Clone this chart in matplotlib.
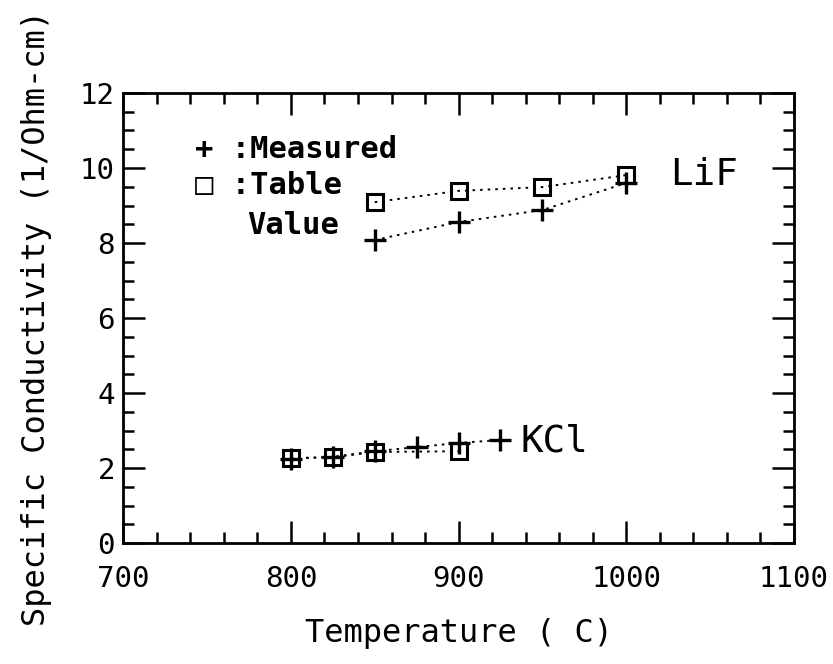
import numpy as np
import matplotlib; matplotlib.use("Agg")
import matplotlib.pyplot as plt
from matplotlib.ticker import MultipleLocator

plt.rcParams.update({"font.family": "DejaVu Sans Mono", "font.size": 21})

# LiF
lif_t = [850, 900, 950, 1000]
lif_meas = [8.08, 8.56, 8.88, 9.60]
lif_table = [9.09, 9.39, 9.49, 9.81]
# KCl
kcl_t_meas = [800, 825, 850, 875, 900, 925]
kcl_meas = [2.25, 2.30, 2.45, 2.56, 2.67, 2.75]
kcl_t_table = [800, 825, 850, 900]
kcl_table = [2.27, 2.29, 2.43, 2.45]

DOT = (0, (1.3, 2.6))

fig = plt.figure(figsize=(8.33, 6.64), dpi=100)
ax = fig.add_axes([0.148, 0.182, 0.805, 0.678])

for x, y in [(lif_t, lif_meas), (kcl_t_meas, kcl_meas)]:
    ax.plot(x, y, ls=DOT, lw=1.4, color="k", marker="+", ms=16, mew=2.4)
for x, y in [(lif_t, lif_table), (kcl_t_table, kcl_table)]:
    ax.plot(x, y, ls=DOT, lw=1.4, color="k", marker="s", ms=11, mew=2.2,
            mfc="none")

kw = dict(va="center", ha="left", fontsize=22, fontweight="semibold")
ax.text(743, 10.48, "+ :Measured", **kw)
ax.text(743, 9.52, "\u25a1 :Table", **kw)
ax.text(774, 8.48, "Value", **kw)
ax.text(1026, 9.81, "LiF", va="center", ha="left", fontsize=27)
ax.text(937, 2.72, "KCl", va="center", ha="left", fontsize=27)

ax.set_xlim(700, 1100)
ax.set_ylim(0, 12)
ax.xaxis.set_major_locator(MultipleLocator(100))
ax.xaxis.set_minor_locator(MultipleLocator(20))
ax.yaxis.set_major_locator(MultipleLocator(2))
ax.yaxis.set_minor_locator(MultipleLocator(0.5))
ax.tick_params(which="both", direction="in", top=True, right=True, width=1.8)
ax.tick_params(which="major", length=16)
ax.tick_params(which="minor", length=8)
ax.tick_params(axis="x", which="major", pad=16)
ax.tick_params(axis="y", which="major", pad=6)
for s in ax.spines.values():
    s.set_linewidth(2)

ax.set_xlabel("Temperature ( C)", labelpad=18, fontsize=23)
ax.set_ylabel("Specific Conductivity (1/Ohm-cm)", labelpad=20, fontsize=23)

fig.savefig("out.png")
